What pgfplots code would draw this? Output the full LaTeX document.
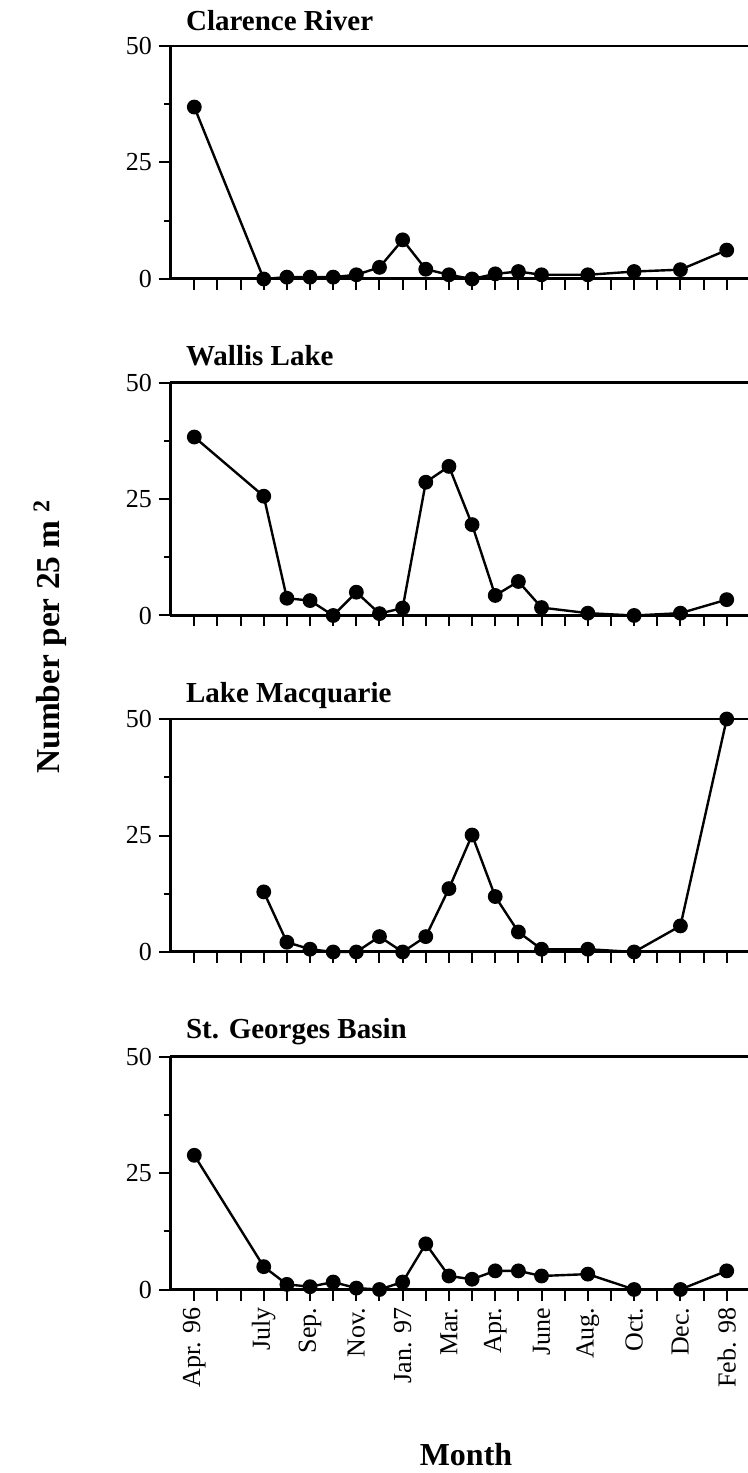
\documentclass[border=0pt]{standalone}
\usepackage{fontspec}
\setmainfont{Liberation Serif}
\usepackage{pgfplots}
\pgfplotsset{compat=1.18}
\pgfplotsset{
  panel/.style={
    anchor=south west, scale only axis,
    width=289.35pt, height=116.5pt,
    xmin=-1.05, xmax=23.95, ymin=0, ymax=50,
    axis lines*=left,
    axis line style={-, line width=1.5pt},
    clip=false,
    tick align=outside,
    xtick={0,...,23},
    ytick={0,25,50},
    minor ytick={12.5,37.5},
    major tick length=5.5pt,
    minor tick length=3pt,
    every tick/.style={line width=1pt, black},
    minor tick style={line width=0.8pt, black},
    xticklabels={},
    yticklabel style={font=\fontsize{13}{15}\selectfont, xshift=0pt},
    /pgf/number format/assume math mode=true,
  },
  ser/.style={black, line width=1.2pt, mark=*, mark size=3.1pt, mark options={solid, fill=black}},
}
\tikzset{ttl/.style={anchor=base west, font=\fontsize{14.5}{16}\selectfont\bfseries}}
\begin{document}
\begin{tikzpicture}
\useasboundingbox (0,0) rectangle (374pt,736.5pt);

\begin{axis}[panel, at={(85pt,597pt)}]
\addplot[ser] coordinates {(0,36.9) (3,0) (4,0.4) (5,0.4) (6,0.4) (7,0.9) (8,2.5) (9,8.4) (10,2.1) (11,0.9) (12,0) (13,1.1) (14,1.6) (15,0.9) (17,0.9) (19,1.6) (21,2.0) (23,6.2)};
\draw[line width=1.3pt] (rel axis cs:0,1) -- (rel axis cs:1,1);
\draw[gray!50, line width=0.5pt] (rel axis cs:1,0) -- (rel axis cs:1,1);
\node[ttl] at ([xshift=4.5pt,yshift=8pt]rel axis cs:0,1) {Clarence River};
\end{axis}

\begin{axis}[panel, at={(85pt,428.75pt)}]
\addplot[ser] coordinates {(0,38.3) (3,25.6) (4,3.7) (5,3.2) (6,0) (7,5.0) (8,0.4) (9,1.6) (10,28.6) (11,32.0) (12,19.5) (13,4.3) (14,7.3) (15,1.7) (17,0.5) (19,0) (21,0.5) (23,3.4)};
\draw[line width=1.3pt] (rel axis cs:0,1) -- (rel axis cs:1,1);
\draw[gray!50, line width=0.5pt] (rel axis cs:1,0) -- (rel axis cs:1,1);
\node[ttl] at ([xshift=4.5pt,yshift=8.5pt]rel axis cs:0,1) {Wallis Lake};
\end{axis}

\begin{axis}[panel, at={(85pt,260.5pt)}]
\addplot[ser] coordinates {(3,12.9) (4,2.1) (5,0.6) (6,0) (7,0) (8,3.3) (9,0) (10,3.3) (11,13.6) (12,25.1) (13,11.9) (14,4.3) (15,0.6) (17,0.6) (19,0) (21,5.6) (23,50)};
\draw[line width=1.3pt] (rel axis cs:0,1) -- (rel axis cs:1,1);
\draw[gray!50, line width=0.5pt] (rel axis cs:1,0) -- (rel axis cs:1,1);
\node[ttl] at ([xshift=4.5pt,yshift=8.5pt]rel axis cs:0,1) {Lake Macquarie};
\end{axis}

\begin{axis}[panel, at={(85pt,91.75pt)},
  xticklabels={Apr. 96,,,July,,Sep.,,Nov.,,Jan. 97,,Mar.,,Apr.,,June,,Aug.,,Oct.,,Dec.,,Feb. 98},
  xticklabel style={rotate=90, anchor=east, font=\fontsize{13}{15}\selectfont}]
\addplot[ser] coordinates {(0,28.8) (3,4.9) (4,1.1) (5,0.6) (6,1.6) (7,0.3) (8,0) (9,1.6) (10,9.8) (11,2.9) (12,2.2) (13,4.0) (14,4.0) (15,2.9) (17,3.3) (19,0) (21,0) (23,4.0)};
\draw[line width=1.3pt] (rel axis cs:0,1) -- (rel axis cs:1,1);
\draw[gray!50, line width=0.5pt] (rel axis cs:1,0) -- (rel axis cs:1,1);
\node[ttl] at ([xshift=4.5pt,yshift=9pt]rel axis cs:0,1) {St. Georges Basin};
\end{axis}

\node[rotate=90, font=\fontsize{16.7}{19}\selectfont\bfseries] at (25pt,418pt) {Number per 25 m\hspace{4pt}\raisebox{5pt}{\fontsize{12}{14}\selectfont 2}};
\node[anchor=base, font=\fontsize{16}{18}\selectfont\bfseries] at (233pt,3.5pt) {Month};
\end{tikzpicture}
\end{document}
